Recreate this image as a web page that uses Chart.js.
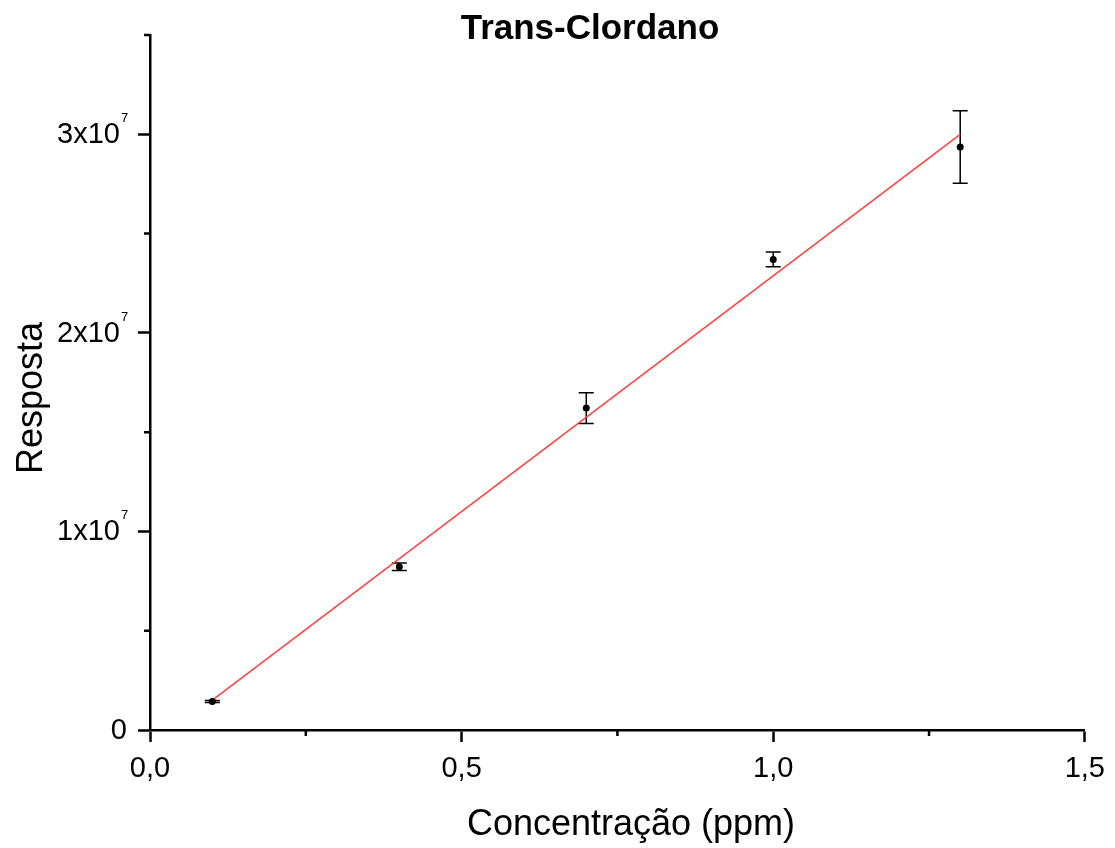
<!DOCTYPE html>
<html>
<head>
<meta charset="utf-8">
<title>Trans-Clordano</title>
<script src="https://cdn.jsdelivr.net/npm/chart.js@4.4.1/dist/chart.umd.min.js"></script>
<style>
  body { margin: 0; background: #fff; }
  #wrap { width: 1115px; height: 848px; }
</style>
</head>
<body>
<div id="wrap"><canvas id="chart" width="1115" height="848"></canvas></div>
<script>
// measured points (mean response per concentration) and their error bars
const concentrations = [0.1, 0.4, 0.7, 1.0, 1.3];
const responses = [1.43e6, 8.22e6, 16.21e6, 23.70e6, 29.36e6];
const responseErrors = [0.05e6, 0.19e6, 0.78e6, 0.37e6, 1.82e6];

// linear fit between first and last concentration
const fitX = [0.1, 1.3];
const fitY = [1.5e6, 3.0e7];

// axis ticks
const xTicks = [0, 0.5, 1.0, 1.5];
const xMinorTicks = [0.25, 0.75, 1.25];
const yTicks = [0, 1e7, 2e7, 3e7];
const yMinorTicks = [0.5e7, 1.5e7, 2.5e7, 3.5e7];

const FONT = "'Liberation Sans', Arial, sans-serif";

// error bars go under the line and points
const errorBarsPlugin = {
    id: 'errorBars',
    beforeDatasetsDraw(chart) {
        const ctx = chart.ctx;
        const xs = chart.scales.x, ys = chart.scales.y;
        ctx.save();
        ctx.strokeStyle = '#000';
        ctx.lineWidth = 1.5;
        concentrations.forEach((c, i) => {
            const px = xs.getPixelForValue(c);
            const top = ys.getPixelForValue(responses[i] + responseErrors[i]);
            const bot = ys.getPixelForValue(responses[i] - responseErrors[i]);
            ctx.beginPath();
            ctx.moveTo(px, top); ctx.lineTo(px, bot);
            ctx.moveTo(px - 7.5, top); ctx.lineTo(px + 7.5, top);
            ctx.moveTo(px - 7.5, bot); ctx.lineTo(px + 7.5, bot);
            ctx.stroke();
        });
        ctx.restore();
    }
};

// minor ticks, y labels with exponent, titles
const decorPlugin = {
    id: 'decor',
    afterDraw(chart) {
        const ctx = chart.ctx;
        const xs = chart.scales.x, ys = chart.scales.y;
        const area = chart.chartArea;
        ctx.save();
        ctx.strokeStyle = '#000';
        ctx.lineWidth = 2.5;
        ctx.beginPath();
        xMinorTicks.forEach(v => {
            const px = xs.getPixelForValue(v);
            ctx.moveTo(px, area.bottom); ctx.lineTo(px, area.bottom + 6);
        });
        yMinorTicks.forEach(v => {
            const py = ys.getPixelForValue(v);
            ctx.moveTo(area.left, py); ctx.lineTo(area.left - 6, py);
        });
        ctx.stroke();

        // y tick labels, e.g. 3x10^7
        ctx.fillStyle = '#000';
        yTicks.forEach(v => {
            const py = ys.getPixelForValue(v);
            ctx.font = `29px ${FONT}`;
            ctx.textBaseline = 'middle';
            ctx.textAlign = 'right';
            if (v === 0) {
                ctx.fillText('0', 127, py + 1);
                return;
            }
            ctx.fillText((v / 1e7) + 'x10', 120, py + 1);
            ctx.font = `13px ${FONT}`;
            ctx.textAlign = 'left';
            ctx.textBaseline = 'alphabetic';
            ctx.fillText('7', 121, py - 12);
        });

        // chart title
        ctx.font = `bold 35px ${FONT}`;
        ctx.textAlign = 'center';
        ctx.textBaseline = 'alphabetic';
        ctx.fillText('Trans-Clordano', 590, 39);

        // x axis title
        ctx.font = `36px ${FONT}`;
        ctx.fillText('Concentração (ppm)', 631, 835);

        // y axis title
        ctx.translate(42, 398);
        ctx.rotate(-Math.PI / 2);
        ctx.fillText('Resposta', 0, 0);
        ctx.restore();
    }
};

const pointData = concentrations.map((c, i) => ({ x: c, y: responses[i] }));
const fitData = fitX.map((c, i) => ({ x: c, y: fitY[i] }));

new Chart(document.getElementById('chart'), {
    type: 'scatter',
    data: {
        datasets: [{
            label: 'Resposta',
            data: pointData,
            backgroundColor: '#000',
            borderWidth: 0,
            pointRadius: 3.5
        }, {
            label: 'Ajuste linear',
            data: fitData,
            showLine: true,
            borderColor: '#ff4040',
            borderWidth: 1.5,
            pointRadius: 0
        }]
    },
    options: {
        responsive: false,
        animation: false,
        layout: {
            padding: { top: 35, right: 28, left: 0, bottom: 0 }
        },
        scales: {
            x: {
                type: 'linear',
                min: 0,
                max: 1.5,
                afterBuildTicks: s => { s.ticks = xTicks.map(v => ({ value: v })); },
                afterFit: s => { s.height = 118; },
                ticks: {
                    color: '#000',
                    padding: 10,
                    font: { family: FONT, size: 29 },
                    callback: v => v.toFixed(1).replace('.', ',')
                },
                grid: {
                    drawOnChartArea: false,
                    drawTicks: true,
                    tickLength: 12,
                    tickWidth: 2.5,
                    tickColor: '#000'
                },
                border: { display: true, color: '#000', width: 2.5 }
            },
            y: {
                type: 'linear',
                min: 0,
                max: 3.5e7,
                afterBuildTicks: s => { s.ticks = yTicks.map(v => ({ value: v })); },
                afterFit: s => { s.width = 150; },
                ticks: { display: false },
                grid: {
                    drawOnChartArea: false,
                    drawTicks: true,
                    tickLength: 12,
                    tickWidth: 2.5,
                    tickColor: '#000'
                },
                border: { display: true, color: '#000', width: 2.5 }
            }
        },
        plugins: {
            legend: { display: false },
            tooltip: { enabled: false }
        }
    },
    plugins: [errorBarsPlugin, decorPlugin]
});
</script>
</body>
</html>
